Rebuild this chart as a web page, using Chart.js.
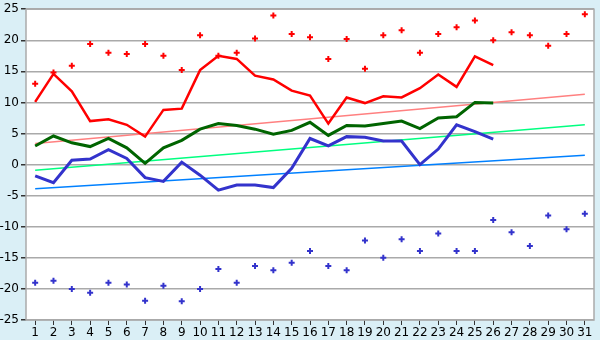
<!DOCTYPE html>
<html>
<head>
<meta charset="utf-8">
<script src="https://cdn.jsdelivr.net/npm/chart.js@4/dist/chart.umd.min.js"></script>
<style>
    html, body { margin: 0; padding: 0; background: #daeff6; }
    canvas { display: block; }
</style>
</head>
<body>
<canvas id="graficoTemp" width="600" height="340"></canvas>
<script>
// dados
var dias = ['1','2','3','4','5','6','7','8','9','10','11','12','13','14','15','16','17','18','19','20','21','22','23','24','25','26','27','28','29','30','31']

var maxMedia = [10.1, 14.6, 11.8, 7.0, 7.3, 6.4, 4.5, 8.8, 9.0, 15.2, 17.5, 17.0, 14.3, 13.7, 11.9, 11.1, 6.6, 10.8, 9.9, 11.0, 10.8, 12.3, 14.5, 12.5, 17.4, 16.0]
var media = [3.0, 4.6, 3.5, 2.9, 4.2, 2.7, 0.2, 2.7, 3.9, 5.7, 6.6, 6.3, 5.7, 4.9, 5.5, 6.8, 4.7, 6.3, 6.2, 6.6, 7.0, 5.8, 7.5, 7.7, 10.0, 9.9]
var minMedia = [-1.8, -2.9, 0.7, 0.9, 2.4, 1.0, -2.1, -2.7, 0.4, -1.7, -4.1, -3.3, -3.3, -3.7, -0.6, 4.2, 3.0, 4.5, 4.4, 3.8, 3.8, 0.0, 2.5, 6.4, 5.3, 4.1]

var maxRecorde = [13.0, 14.8, 15.9, 19.4, 18.0, 17.8, 19.4, 17.5, 15.2, 20.8, 17.5, 18.0, 20.3, 24.0, 21.0, 20.5, 17.0, 20.2, 15.4, 20.8, 21.6, 18.0, 21.0, 22.1, 23.2, 20.0, 21.3, 20.8, 19.1, 21.0, 24.2]
var minRecorde = [-19.0, -18.7, -20.0, -20.6, -19.0, -19.3, -21.9, -19.5, -22.0, -20.0, -16.8, -19.0, -16.3, -17.0, -15.8, -13.9, -16.3, -17.0, -12.2, -15.0, -12.0, -13.9, -11.1, -13.9, -13.9, -8.9, -10.9, -13.1, -8.2, -10.4, -7.9]

// tendencias: valor no dia 1 e no dia 31
var tendMax = [3.4, 11.3]
var tendMedia = [-0.9, 6.4]
var tendMin = [-3.9, 1.5]

var yTicks = [-25, -20, -15, -10, -5, 0, 5, 10, 15, 20, 25]

function linhaTendencia(ends) {
    var arr = dias.map(function () { return null })
    arr[0] = ends[0]
    arr[dias.length - 1] = ends[1]
    return arr
}

var fundoArea = {
    id: 'fundoArea',
    beforeDraw: function (chart) {
        var c = chart.ctx, a = chart.chartArea
        c.save()
        c.fillStyle = '#daeff6'
        c.fillRect(0, 0, chart.width, chart.height)
        c.fillStyle = '#ffffff'
        c.fillRect(a.left, a.top, a.right - a.left, a.bottom - a.top)
        c.restore()
    },
    afterDatasetsDraw: function (chart) {
        var c = chart.ctx, a = chart.chartArea
        c.save()
        c.strokeStyle = '#aaaaaa'
        c.lineWidth = 1.5
        c.strokeRect(a.left, a.top, a.right - a.left, a.bottom - a.top)
        c.restore()
    }
}

var ctx = document.getElementById('graficoTemp')

var graficoTemp = new Chart(ctx, {
    data: {
        labels: dias,
        datasets: [{
            type: 'line',
            data: maxMedia,
            borderColor: '#ff0000',
            borderWidth: 2.5,
            pointRadius: 0,
            tension: 0
        }, {
            type: 'line',
            data: media,
            borderColor: '#006400',
            borderWidth: 3,
            pointRadius: 0,
            tension: 0
        }, {
            type: 'line',
            data: minMedia,
            borderColor: '#3333cc',
            borderWidth: 3,
            pointRadius: 0,
            tension: 0
        }, {
            type: 'line',
            data: maxRecorde,
            showLine: false,
            pointStyle: 'cross',
            pointRadius: 3,
            borderWidth: 2,
            borderColor: '#ff0000',
            backgroundColor: '#ff0000'
        }, {
            type: 'line',
            data: minRecorde,
            showLine: false,
            pointStyle: 'cross',
            pointRadius: 3,
            borderWidth: 2,
            borderColor: '#3333cc',
            backgroundColor: '#3333cc'
        }, {
            type: 'line',
            data: linhaTendencia(tendMax),
            spanGaps: true,
            borderColor: '#ff8080',
            borderWidth: 1.5,
            pointRadius: 0
        }, {
            type: 'line',
            data: linhaTendencia(tendMedia),
            spanGaps: true,
            borderColor: '#00ff80',
            borderWidth: 1.5,
            pointRadius: 0
        }, {
            type: 'line',
            data: linhaTendencia(tendMin),
            spanGaps: true,
            borderColor: '#0080ff',
            borderWidth: 1.5,
            pointRadius: 0
        }]
    },
    options: {
        responsive: false,
        animation: false,
        layout: { padding: { top: 5, right: 5, left: 0, bottom: 0 } },
        plugins: {
            legend: { display: false },
            tooltip: { enabled: false }
        },
        scales: {
            x: {
                offset: true,
                grid: { display: true, drawOnChartArea: false, color: '#333333', tickLength: 5, offset: false },
                border: { display: false },
                ticks: { color: '#000', font: { family: 'DejaVu Sans', size: 12 }, padding: 1, maxRotation: 0, autoSkip: false },
                afterFit: function (scale) { scale.height = 20 }
            },
            y: {
                min: -25,
                max: 25,
                afterBuildTicks: function (scale) {
                    scale.ticks = yTicks.map(function (v) { return { value: v } })
                },
                grid: { color: '#aaaaaa', lineWidth: 1.5, tickLength: 5, tickColor: '#333333' },
                border: { display: false },
                ticks: { color: '#000', font: { family: 'DejaVu Sans', size: 12 }, padding: 2 },
                afterFit: function (scale) { scale.width = 26 }
            }
        }
    },
    plugins: [fundoArea]
});
</script>
</body>
</html>
